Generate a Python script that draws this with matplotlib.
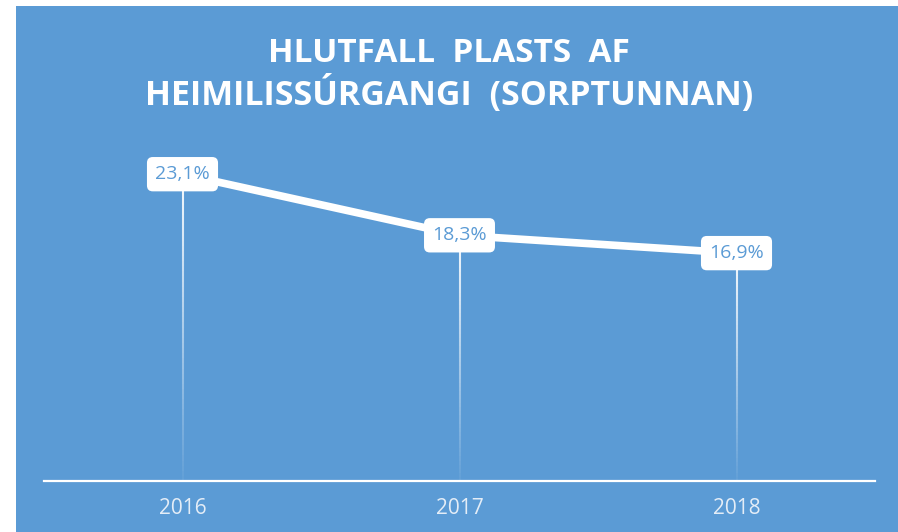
import numpy as np
import matplotlib.pyplot as plt
from matplotlib.patches import Rectangle
from matplotlib.collections import LineCollection

years = ["2016", "2017", "2018"]
shares = [23.1, 18.3, 16.9]
labels = ["23,1%", "18,3%", "16,9%"]

bg = "#5B9BD5"

fig = plt.figure(figsize=(8.98, 5.32), dpi=100)
fig.patch.set_facecolor("white")
# blue chart area (thin white margin top/left like the screenshot)
fig.patches.append(Rectangle((16 / 898, 0), 1 - 16 / 898, 526 / 532,
                             transform=fig.transFigure, facecolor=bg,
                             edgecolor="none", zorder=-5))

ax = fig.add_axes([44 / 898, 51 / 532, 831 / 898, 331 / 532])
ax.set_facecolor("none")
ax.set_zorder(2)

x = np.arange(len(years))
ymin, ymax = -1.0, 25.0

for s in ["top", "left", "right"]:
    ax.spines[s].set_visible(False)
ax.spines["bottom"].set_position(("data", ymin))
ax.spines["bottom"].set_color("white")
ax.spines["bottom"].set_linewidth(1.6)

# drop lines fading toward the baseline
n_seg = 60
for xi, v in zip(x, shares):
    ys = np.linspace(v, ymin, n_seg + 1)
    segs = [[(xi, ys[k]), (xi, ys[k + 1])] for k in range(n_seg)]
    alphas = np.linspace(0.95, 0.05, n_seg)
    cols = [(1, 1, 1, a) for a in alphas]
    ax.add_collection(LineCollection(segs, colors=cols, linewidths=1.5, zorder=2))

ax.plot(x, shares, color="white", linewidth=5.5, solid_capstyle="butt", zorder=3)

for xi, v, lab in zip(x, shares, labels):
    ax.text(xi, v, lab, ha="center", va="center", color=bg, fontsize=14,
            family="Open Sans", zorder=5,
            bbox=dict(boxstyle="round,pad=0.42,rounding_size=0.3",
                      facecolor="white", edgecolor="none"))

ax.set_xlim(-0.5, len(years) - 0.5)
ax.set_ylim(ymin, ymax)
ax.set_xticks(x)
ax.set_xticklabels(years, fontsize=15, color="#E4EDF7", family="Open Sans")
ax.tick_params(axis="x", length=0, pad=12)
ax.set_yticks([])

fig.text(0.5, 1 - 62 / 532, "HLUTFALL  PLASTS  AF", ha="center", va="baseline",
         color="white", fontsize=24, fontweight="bold", family="Open Sans")
fig.text(0.5, 1 - 105 / 532, "HEIMILISSÚRGANGI  (SORPTUNNAN)", ha="center",
         va="baseline", color="white", fontsize=24.5, fontweight="bold",
         family="Open Sans")

fig.savefig("out.png", dpi=100, facecolor=fig.get_facecolor())
